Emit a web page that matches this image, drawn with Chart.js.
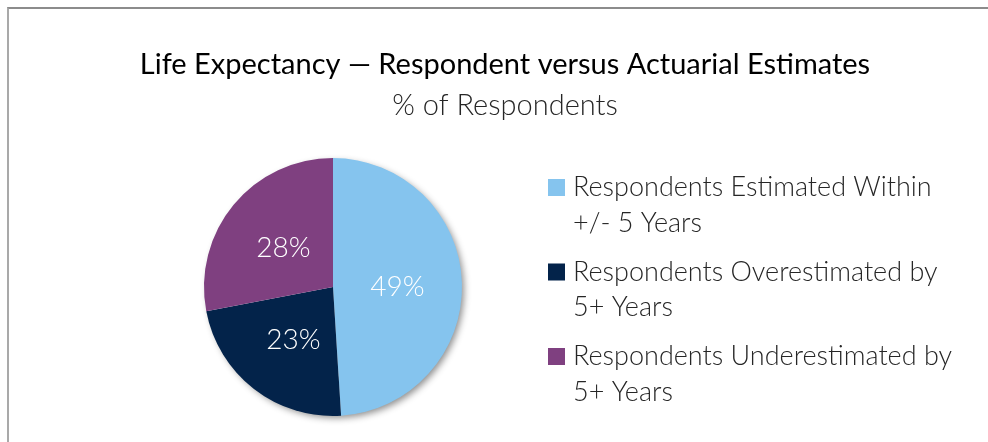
<!DOCTYPE html>
<html>
<head>
<meta charset="utf-8">
<title>Life Expectancy</title>
<script src="https://cdn.jsdelivr.net/npm/chart.js@4.4.1/dist/chart.umd.min.js"></script>
<style>
  html, body { margin: 0; padding: 0; background: #fff; }
  #wrap { position: relative; width: 988px; height: 442px; overflow: hidden; }
  #frame { position: absolute; left: 7px; top: 7px; right: -4px; bottom: -4px;
           border-left: 2px solid #a9a9a9; border-top: 2px solid #8c8c8c; }
  canvas { position: absolute; left: 0; top: 0; }
</style>
</head>
<body>
<div id="wrap">
  <div id="frame"></div>
  <canvas id="lifeChart" width="988" height="442"></canvas>
</div>
<script>
// Chart data
const titleText = 'Life Expectancy \u2014 Respondent versus Actuarial Estimates';
const subtitleText = '% of Respondents';
const categories = [
    ['Respondents Estimated Within', '+/- 5 Years'],
    ['Respondents Overestimated by', '5+ Years'],
    ['Respondents Underestimated by', '5+ Years']
];
const shares = [49, 23, 28];
const sliceColors = ['#85c4ee', '#03234a', '#7f4080'];

const FONT = 'Lato, Carlito, "Open Sans", sans-serif';

// Draws the pie shadow, slice labels, title and the wrapped legend
const decorPlugin = {
    id: 'decor',

    beforeDatasetsDraw(chart) {
        const arc = chart.getDatasetMeta(0).data[0];
        const ctx = chart.ctx;
        ctx.save();
        ctx.shadowColor = 'rgba(0, 0, 0, 0.45)';
        ctx.shadowBlur = 7;
        ctx.shadowOffsetX = 3;
        ctx.shadowOffsetY = 3;
        ctx.fillStyle = '#fff';
        ctx.beginPath();
        ctx.arc(arc.x, arc.y, arc.outerRadius - 1, 0, Math.PI * 2);
        ctx.fill();
        ctx.restore();
    },

    afterDatasetsDraw(chart) {
        const ctx = chart.ctx;
        const meta = chart.getDatasetMeta(0);
        ctx.save();
        ctx.fillStyle = '#fff';
        ctx.font = '300 28px ' + FONT;
        ctx.textAlign = 'center';
        ctx.textBaseline = 'middle';
        meta.data.forEach((arc, i) => {
            const pos = arc.tooltipPosition();
            ctx.fillText(chart.data.datasets[0].data[i] + '%', pos.x, pos.y + 2);
        });
        ctx.restore();
    },

    afterDraw(chart) {
        const ctx = chart.ctx;
        ctx.save();

        // Title and subtitle
        ctx.textAlign = 'center';
        ctx.textBaseline = 'alphabetic';
        ctx.fillStyle = '#000';
        ctx.font = '29px ' + FONT;
        ctx.fillText(titleText, 505, 74);
        ctx.fillStyle = '#262626';
        ctx.font = '300 29px ' + FONT;
        ctx.fillText(subtitleText, 505, 115);

        // Legend
        const colors = chart.data.datasets[0].backgroundColor;
        ctx.textAlign = 'left';
        ctx.font = '300 27px ' + FONT;
        categories.forEach((lines, i) => {
            const top = 179 + i * 84.5;
            ctx.fillStyle = colors[i];
            ctx.fillRect(548, top, 17, 17);
            ctx.fillStyle = '#262626';
            lines.forEach((line, j) => {
                ctx.fillText(line, 573, top + 17 + j * 35.5);
            });
        });
        ctx.restore();
    }
};

const ctx = document.getElementById('lifeChart').getContext('2d');
const lifeChart = new Chart(ctx, {
    type: 'pie',
    data: {
        labels: categories.map(c => c.join(' ')),
        datasets: [{
            data: shares,
            backgroundColor: sliceColors,
            borderWidth: 0
        }]
    },
    options: {
        responsive: false,
        animation: false,
        layout: {
            padding: { left: 204, right: 526, top: 158, bottom: 26 }
        },
        plugins: {
            legend: { display: false },
            title: { display: false },
            tooltip: { enabled: false }
        }
    },
    plugins: [decorPlugin]
});
</script>
</body>
</html>
